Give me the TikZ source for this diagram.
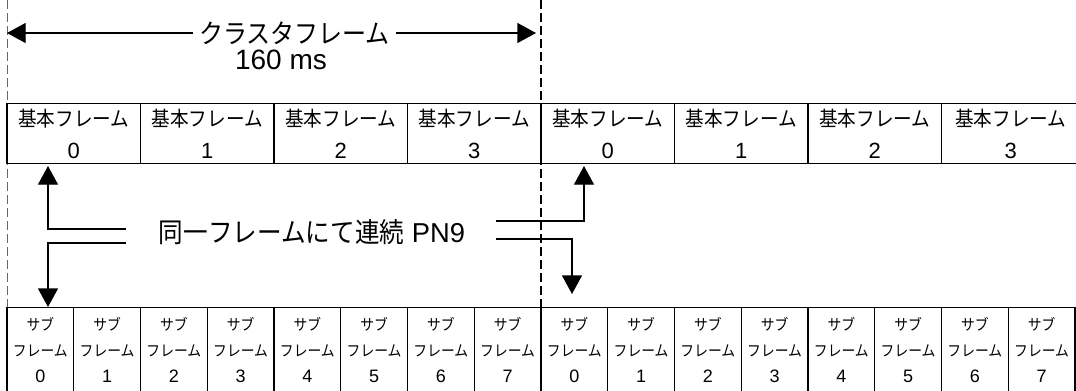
\documentclass[tikz,border=0pt]{standalone}
\usepackage{fontspec}
\setmainfont{Liberation Sans}
\newfontfamily\jp[FakeStretch=0.9]{Noto Sans CJK JP}
\usetikzlibrary{arrows.meta}
\begin{document}
\begin{tikzpicture}[x=0.75pt,y=-0.75pt,
  bigbox/.style={draw,line width=1.1pt,minimum width=100.125pt,minimum height=45pt,inner sep=0pt,anchor=north,align=center,font=\fontsize{15.5pt}{23.6pt}\selectfont},
  subbox/.style={draw,line width=1.1pt,minimum width=50.06pt,minimum height=63.75pt,inner sep=0pt,anchor=north,align=center,font=\fontsize{11.5pt}{19.5pt}\selectfont},
  conn/.style={line width=1pt},
  tip/.style={-{Triangle[width=15pt,length=14pt]}},
  guide/.style={dash pattern=on 6.75pt off 3pt}]
\path[use as bounding box] (0,0) rectangle (1076,390);
\clip (0,0) rectangle (1076,390);
% guides
\coordinate (gl0) at (7,0); \coordinate (gl1) at (7,307);
\coordinate (gr0) at (541,0); \coordinate (gr1) at (541,307);
\draw[guide,line width=0.6pt,black!60] (gl0) -- (gl1);
\draw[guide,line width=1pt] (gr0) -- (gr1);
% title arrow
\node[font=\fontsize{20pt}{24pt}\selectfont\jp,inner xsep=4.5pt,inner ysep=0pt] (title) at (294.5,33) {クラスタフレーム};
\node[font=\fontsize{21pt}{25pt}\selectfont,inner sep=0pt] (ms) at (281,60) {160 ms};
\coordinate (tl) at (7,33); \coordinate (tr) at (536,33);
\draw[conn,tip] (title.west) -- (tl);
\draw[conn,tip] (title.east) -- (tr);
% basic frames
\foreach \i/\n in {0/0,1/1,2/2,3/3,4/0,5/1,6/2} {
  \node[bigbox] (b\i) at ({7+133.5*(\i+0.5)},103) {{\jp 基本フレーム}\\{\fontsize{16.5pt}{23.6pt}\selectfont\n}};
}
\node[bigbox,minimum width=103.9pt] (b7) at (1010.75,103) {{\jp 基本フレーム}\\{\fontsize{16.5pt}{23.6pt}\selectfont 3}};
% sub frames
\foreach \i in {0,...,15} {
  \pgfmathtruncatemacro\n{mod(\i,8)}
  \node[subbox] (s\i) at ({7+66.75*(\i+0.5)},307) {{\jp サブ}\\{\jp フレーム}\\{\fontsize{13.5pt}{19.5pt}\selectfont\n}};
}
% label
\node[font=\fontsize{20.5pt}{25pt}\selectfont,inner sep=0pt] (pn) at (312,232) {{\jp 同一フレームにて連続} PN9};
% connectors
\coordinate (a0) at (126,229); \coordinate (a1) at (48,229); \coordinate (a2) at (48,166);
\draw[conn,tip] (a0) -- (a1) -- (a2);
\coordinate (c0) at (126,243); \coordinate (c1) at (48,243); \coordinate (c2) at (48,307);
\draw[conn,tip] (c0) -- (c1) -- (c2);
\coordinate (d0) at (496,221); \coordinate (d1) at (584,221); \coordinate (d2) at (584,166);
\draw[conn,tip] (d0) -- (d1) -- (d2);
\coordinate (e0) at (496,239); \coordinate (e1) at (572,239); \coordinate (e2) at (572,294);
\draw[conn,tip] (e0) -- (e1) -- (e2);
\end{tikzpicture}
\end{document}
